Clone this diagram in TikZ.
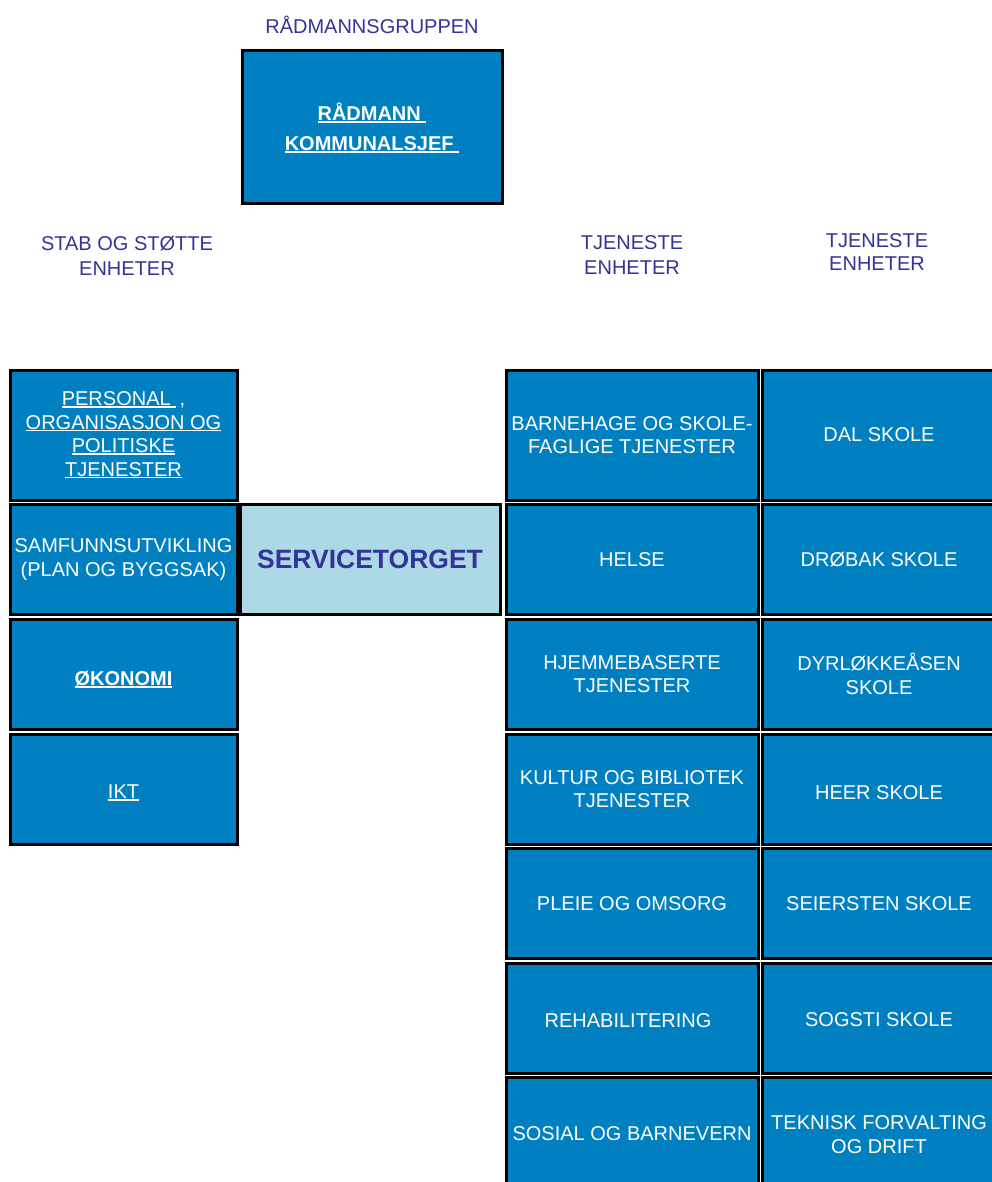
\documentclass[tikz,border=0pt]{standalone}
\usepackage{fontspec}
\setmainfont{Liberation Sans}
\usepackage{tikz}
\usetikzlibrary{positioning}
\definecolor{unitblue}{RGB}{0,128,192}
\definecolor{torgblue}{RGB}{173,216,230}
\definecolor{headblue}{RGB}{51,51,153}
\newcommand{\undl}[1]{\setbox0=\hbox{#1}\rlap{\rule[-2.4pt]{\wd0}{1.6pt}}\box0}
\newcommand{\lowr}[1]{\rule{0pt}{#1}}

\begin{document}
\begin{tikzpicture}[x=1pt, y=-1pt,
  unit/.style={rectangle, fill=unitblue, draw=black, line width=3pt, text=white, align=center, inner sep=0pt, font=\fontsize{20}{23.5}\selectfont},
  stab/.style={unit, minimum width=227pt, minimum height=110pt},
  tjen/.style={unit, minimum width=252pt, minimum height=110pt},
  skole/.style={unit, minimum width=234pt, minimum height=110pt},
  head/.style={text=headblue, align=center, inner sep=0pt, font=\fontsize{20}{25}\selectfont}]
  \useasboundingbox (0,0) rectangle (991,1182);

  % overskrifter
  \node (grp) [head] at (372,25) {RÅDMANNSGRUPPEN};
  \node (hstab) [head] at (127,255.5) {STAB OG STØTTE\\ENHETER};
  \node (htjen) [head] at (632,255.5) {TJENESTE\\ENHETER};
  \node (hskole) [head, font=\fontsize{20}{23}\selectfont] at (877,252.5) {TJENESTE\\ENHETER};

  % raadmann og servicetorget
  \node (radmann) [unit, minimum width=260pt, minimum height=153pt, font=\bfseries\fontsize{20}{30}\selectfont] at (372,127.5) {\undl{RÅDMANN\ }\\\undl{KOMMUNALSJEF\ }};
  \node (torg) [unit, fill=torgblue, text=headblue, minimum width=260pt, minimum height=110pt, font=\bfseries\fontsize{26.5}{30}\selectfont] at (370,559.5) {SERVICETORGET};

  % stab og stotte
  \node (pers) [stab, minimum height=130pt] at (123.5,435) {\undl{PERSONAL }\,,\\\undl{ORGANISASJON OG}\\\undl{POLITISKE}\\\undl{TJENESTER}};
  \node (samf) [stab] at (123.5,559.5) {SAMFUNNSUTVIKLING\\(PLAN OG BYGGSAK)};
  \node (okon) [stab, font=\bfseries\fontsize{20}{23.5}\selectfont] at (123.5,674) {\lowr{25pt}\undl{ØKONOMI}};
  \node (ikt) [stab] at (123.5,789) {\lowr{21pt}\undl{IKT}};

  % tjenesteenheter
  \node (barn) [tjen, minimum height=130pt] at (632,435) {BARNEHAGE OG SKOLE-\\FAGLIGE TJENESTER};
  \node (helse) [tjen] at (632,559.5) {HELSE};
  \node (hjem) [tjen] at (632,674) {HJEMMEBASERTE\\TJENESTER};
  \node (kult) [tjen] at (632,789) {KULTUR OG BIBLIOTEK\\TJENESTER};
  \node (pleie) [tjen] at (632,903.5) {PLEIE OG OMSORG};
  \node (rehab) [tjen] at (632,1018) {\hspace*{-8pt}\lowr{20pt}REHABILITERING};
  \node (sosial) [tjen, minimum height=109pt] at (632,1131.5) {\lowr{18pt}SOSIAL OG BARNEVERN};

  % skoler
  \node (dal) [skole, minimum height=130pt] at (879,435) {DAL SKOLE};
  \node (drob) [skole] at (879,559.5) {DRØBAK SKOLE};
  \node (dyrl) [skole] at (879,674) {DYRLØKKEÅSEN\\SKOLE};
  \node (heer) [skole] at (879,789) {\lowr{21pt}HEER SKOLE};
  \node (seier) [skole] at (879,903.5) {SEIERSTEN SKOLE};
  \node (sogsti) [skole] at (879,1018) {\lowr{18pt}SOGSTI SKOLE};
  \node (tekn) [skole, minimum height=109pt] at (879,1131.5) {\lowr{20pt}TEKNISK FORVALTING\\OG DRIFT};
\end{tikzpicture}
\end{document}
